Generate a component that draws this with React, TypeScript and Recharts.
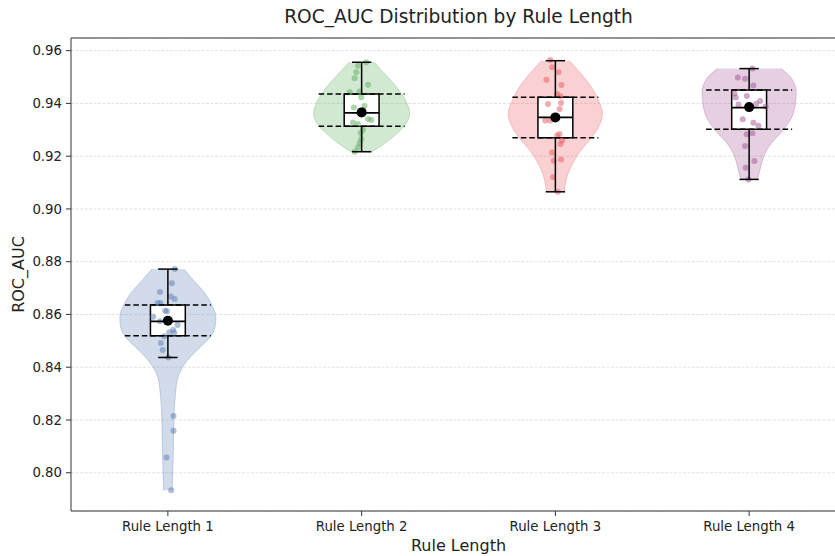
import React from "react";
import {
  ComposedChart,
  Area,
  Scatter,
  XAxis,
  YAxis,
  CartesianGrid,
  ReferenceArea,
  ReferenceLine,
  ReferenceDot,
} from "recharts";

const categories = ["Rule Length 1", "Rule Length 2", "Rule Length 3", "Rule Length 4"];
const colors = ["#5A7EB4", "#5AAE5A", "#E8585C", "#A05195"];

// violin outlines: y levels (ROC_AUC) and half widths (category units)
const violin1Y = [0.7934, 0.8064, 0.8191, 0.8298, 0.8361, 0.8399, 0.8437, 0.8475, 0.8513, 0.8551, 0.8589, 0.8636, 0.8678, 0.8728, 0.8772];
const violin1W = [0.022, 0.028, 0.031, 0.039, 0.052, 0.075, 0.114, 0.165, 0.217, 0.243, 0.248, 0.227, 0.194, 0.134, 0.083];
const violin2Y = [0.9214, 0.924, 0.9278, 0.9316, 0.936, 0.9404, 0.9442, 0.948, 0.9518, 0.9556];
const violin2W = [0.046, 0.103, 0.17, 0.222, 0.248, 0.232, 0.201, 0.16, 0.112, 0.065];
const violin3Y = [0.9065, 0.9114, 0.9164, 0.9214, 0.9265, 0.9309, 0.936, 0.9417, 0.9467, 0.9518, 0.9562];
const violin3W = [0.046, 0.057, 0.083, 0.124, 0.181, 0.222, 0.243, 0.219, 0.181, 0.126, 0.072];
const violin4Y = [0.911, 0.9137, 0.9175, 0.9213, 0.9251, 0.9289, 0.934, 0.939, 0.9441, 0.9491, 0.9532];
const violin4W = [0.041, 0.052, 0.065, 0.083, 0.116, 0.164, 0.215, 0.237, 0.243, 0.222, 0.165];

// box summary per group
const q1 = [0.8519, 0.9313, 0.927, 0.9302];
const median = [0.8574, 0.9364, 0.9347, 0.9384];
const q3 = [0.8636, 0.9436, 0.9423, 0.9451];
const whiskerLow = [0.8437, 0.9217, 0.9065, 0.9112];
const whiskerHigh = [0.8772, 0.9556, 0.9562, 0.9532];
const mean = [0.8576, 0.9366, 0.9347, 0.9386];

// individual runs (value + horizontal jitter)
const runs1 = [0.8772, 0.8718, 0.8685, 0.8668, 0.8659, 0.8643, 0.8643, 0.8614, 0.8612, 0.8591, 0.8574, 0.856, 0.8541, 0.8533, 0.8531, 0.8517, 0.8492, 0.8465, 0.8437, 0.8215, 0.8159, 0.8058, 0.7934];
const jitter1 = [0.036, 0.021, -0.041, 0.015, 0.035, -0.053, -0.038, -0.014, -0.004, -0.076, -0.041, 0.05, 0.027, 0.007, 0.033, -0.019, -0.036, -0.027, 0.002, 0.029, 0.029, -0.007, 0.017];
const runs2 = [0.9556, 0.9543, 0.9518, 0.9495, 0.9471, 0.9442, 0.9445, 0.9423, 0.9385, 0.9391, 0.9376, 0.9337, 0.9341, 0.9328, 0.9322, 0.93, 0.9288, 0.9265, 0.925, 0.9233, 0.9217];
const jitter2 = [0.024, -0.019, -0.027, -0.036, 0.033, -0.062, -0.01, -0.002, -0.04, 0.015, 0.007, 0.05, 0.033, -0.045, -0.019, 0.007, -0.005, -0.002, -0.01, -0.019, -0.036];
const runs3 = [0.9565, 0.9537, 0.9518, 0.949, 0.947, 0.9436, 0.9427, 0.9398, 0.9402, 0.9379, 0.9335, 0.9335, 0.9284, 0.9278, 0.9259, 0.9246, 0.9214, 0.9183, 0.9187, 0.912, 0.9065];
const jitter3 = [-0.026, -0.017, 0.017, -0.046, 0.031, 0.009, 0.026, -0.038, 0.029, 0.022, -0.052, -0.026, 0.021, 0.009, 0.035, 0.026, -0.017, -0.009, 0.029, -0.012, 0.012];
const runs4 = [0.9532, 0.9498, 0.9494, 0.9468, 0.9438, 0.9422, 0.9428, 0.9409, 0.9396, 0.9399, 0.9388, 0.934, 0.9327, 0.9315, 0.9283, 0.9287, 0.9239, 0.9182, 0.9156, 0.9112];
const jitter4 = [0.017, -0.058, -0.021, 0.022, -0.076, -0.069, -0.012, 0.057, -0.055, 0.036, 0.086, -0.033, 0.022, 0.048, -0.012, 0.017, -0.021, 0.027, -0.017, -0.004];

const yTicks = [0.8, 0.82, 0.84, 0.86, 0.88, 0.9, 0.92, 0.94, 0.96];
const Y_MIN = 0.7855;
const Y_MAX = 0.9648;

const violins = [
  [violin1Y, violin1W],
  [violin2Y, violin2W],
  [violin3Y, violin3W],
  [violin4Y, violin4W],
];
const runs = [runs1, runs2, runs3, runs4];
const jitters = [jitter1, jitter2, jitter3, jitter4];

// rows grouped by violin so each area is one contiguous run
const outlineRows = violins.flatMap(([ys, ws], g) =>
  ys.map((y, i) => ({ y, g, w: ws[i] })),
);

const FONT = "DejaVu Sans, sans-serif";
const INK = "#222";
const BOX_HALF = 0.09;
const CAP_HALF = 0.05;
const DASH_HALF = 0.222;

export default function App() {
  return (
    <div
      style={{
        position: "fixed",
        top: 0,
        left: 0,
        width: 835,
        height: 556,
        overflow: "hidden",
        background: "#fff",
      }}
    >
      <div
        style={{
          position: "absolute",
          top: 6,
          left: 71,
          width: 775,
          textAlign: "center",
          fontFamily: FONT,
          fontSize: 18.6,
          lineHeight: "22px",
          color: INK,
        }}
      >
        ROC_AUC Distribution by Rule Length
      </div>
      <div
        style={{
          position: "absolute",
          top: 535,
          left: 71,
          width: 775,
          textAlign: "center",
          fontFamily: FONT,
          fontSize: 16,
          lineHeight: "22px",
          color: INK,
        }}
      >
        Rule Length
      </div>
      <ComposedChart
        width={850}
        height={556}
        layout="vertical"
        data={outlineRows}
        margin={{ top: 38, right: 4, bottom: 0, left: 0 }}
      >
        <CartesianGrid
          vertical={false}
          stroke="#e2e2e2"
          strokeDasharray="3 1.5"
        />
        <XAxis
          type="number"
          dataKey="x"
          domain={[-0.5, 3.5]}
          allowDataOverflow
          ticks={[0, 1, 2, 3]}
          interval={0}
          tickFormatter={(i: number) => categories[i]}
          height={45}
          tickSize={5}
          tickMargin={6}
          tick={{ fontSize: 13.3, fill: INK, fontFamily: FONT }}
          stroke="#333"
          tickLine={{ stroke: "#333" }}
        />
        <YAxis
          type="number"
          dataKey="y"
          reversed
          domain={[Y_MIN, Y_MAX]}
          allowDataOverflow
          ticks={yTicks}
          interval={0}
          tickFormatter={(v: number) => v.toFixed(2)}
          width={71}
          tickSize={5}
          tickMargin={4}
          tick={{ fontSize: 13.3, fill: INK, fontFamily: FONT }}
          stroke="#333"
          tickLine={{ stroke: "#333" }}
          label={{
            value: "ROC_AUC",
            angle: -90,
            position: "insideLeft",
            offset: 18,
            style: { fontSize: 16, fill: INK, fontFamily: FONT, textAnchor: "middle" },
          }}
        />
        <ReferenceLine y={Y_MAX} stroke="#333" ifOverflow="visible" />

        {colors.map((c, k) => (
          <Area
            key={`violin-${k}`}
            dataKey={(r: { g: number; w: number }) =>
              r.g === k ? [k - r.w, k + r.w] : [null, null]
            }
            type="monotone"
            fill={c}
            fillOpacity={0.28}
            stroke={c}
            strokeOpacity={0.3}
            strokeWidth={1}
            dot={false}
            activeDot={false}
            isAnimationActive={false}
            zIndex={100}
          />
        ))}

        {colors.map((_, k) => (
          <ReferenceArea
            key={`box-${k}`}
            x1={k - BOX_HALF}
            x2={k + BOX_HALF}
            y1={q1[k]}
            y2={q3[k]}
            fill="#fff"
            fillOpacity={1}
            stroke="#000"
            strokeWidth={1.5}
            zIndex={150}
          />
        ))}

        {colors.map((c, k) => (
          <Scatter
            key={`runs-${k}`}
            data={runs[k].map((v, i) => ({ x: k + jitters[k][i], y: v }))}
            isAnimationActive={false}
            zIndex={200}
            shape={(p: { cx?: number; cy?: number }) => (
              <circle cx={p.cx} cy={p.cy} r={3} fill={c} fillOpacity={0.5} />
            )}
          />
        ))}

        {colors.map((_, k) => (
          <React.Fragment key={`stats-${k}`}>
            <ReferenceLine
              segment={[{ x: k, y: whiskerLow[k] }, { x: k, y: q1[k] }]}
              stroke="#000"
              strokeWidth={1.5}
              zIndex={300}
            />
            <ReferenceLine
              segment={[{ x: k, y: q3[k] }, { x: k, y: whiskerHigh[k] }]}
              stroke="#000"
              strokeWidth={1.5}
              zIndex={300}
            />
            <ReferenceLine
              segment={[{ x: k - CAP_HALF, y: whiskerLow[k] }, { x: k + CAP_HALF, y: whiskerLow[k] }]}
              stroke="#000"
              strokeWidth={1.5}
              zIndex={300}
            />
            <ReferenceLine
              segment={[{ x: k - CAP_HALF, y: whiskerHigh[k] }, { x: k + CAP_HALF, y: whiskerHigh[k] }]}
              stroke="#000"
              strokeWidth={1.5}
              zIndex={300}
            />
            <ReferenceLine
              segment={[{ x: k - BOX_HALF, y: median[k] }, { x: k + BOX_HALF, y: median[k] }]}
              stroke="#000"
              strokeWidth={1.8}
              zIndex={300}
            />
            <ReferenceLine
              segment={[{ x: k - DASH_HALF, y: q1[k] }, { x: k + DASH_HALF, y: q1[k] }]}
              stroke="#000"
              strokeWidth={1.5}
              strokeDasharray="5.5 3"
              zIndex={300}
            />
            <ReferenceLine
              segment={[{ x: k - DASH_HALF, y: q3[k] }, { x: k + DASH_HALF, y: q3[k] }]}
              stroke="#000"
              strokeWidth={1.5}
              strokeDasharray="5.5 3"
              zIndex={300}
            />
            <ReferenceDot
              x={k}
              y={mean[k]}
              r={5}
              fill="#000"
              stroke="none"
              zIndex={400}
            />
          </React.Fragment>
        ))}
      </ComposedChart>
    </div>
  );
}
